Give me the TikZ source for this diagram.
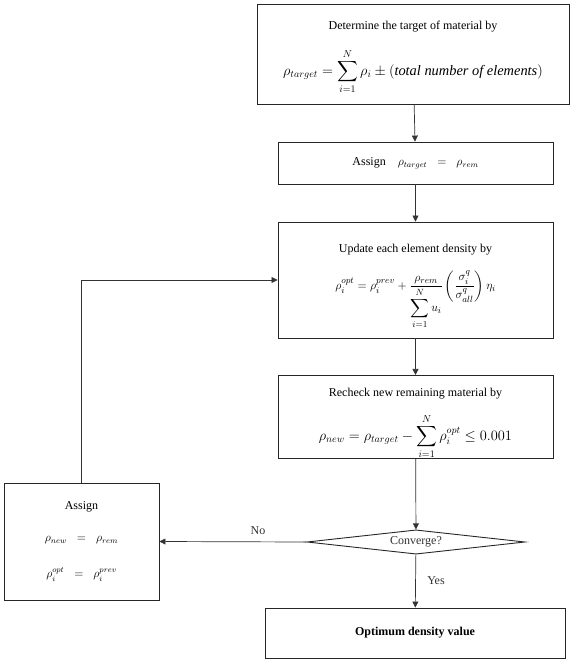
\documentclass[tikz,border=0pt]{standalone}
\usepackage{amsmath, amssymb}
\usepackage{fontspec}
\setmainfont{Liberation Serif}
\usetikzlibrary{shapes.geometric, arrows.meta}

\tikzset{
  stepbox/.style={draw=black!85, line width=0.9pt, inner sep=0pt, align=center,
    font=\fontsize{12}{14}\selectfont},
  flowline/.style={draw=black!80, line width=0.7pt, -{Triangle[width=6pt,length=6pt]}},
  decision/.style={draw=black!85, line width=0.9pt, diamond, aspect=3.76, inner sep=0pt,
    minimum width=218pt, font=\fontsize{12}{14}\selectfont, text=black!80}
}

\begin{document}
\begin{tikzpicture}[x=1pt, y=-1pt]
	\useasboundingbox (0,0) rectangle (573,660);

	\node[stepbox, minimum width=312pt, minimum height=100pt] (target) at (413,54)
		{\rule{0pt}{15pt}Determine the target of material by\\[16pt]
		 \Large$\rho_{target} = \displaystyle\sum_{i=1}^{N}\rho_i \pm \left(\textit{total number of elements}\right)$};
	\node[stepbox, minimum width=275pt, minimum height=42pt] (assign) at (415.5,163)
		{Assign\quad \large$\rho_{target} \;\;=\;\; \rho_{rem}$};
	\node[stepbox, minimum width=275pt, minimum height=116pt] (update) at (415.5,280)
		{\rule{0pt}{21pt}Update each element density by\\[15pt]
		 \fontsize{13}{15}\selectfont$\rho_i^{opt} = \rho_i^{prev} + \dfrac{\rho_{rem}}{\displaystyle\sum_{i=1}^{N} u_i}\left(\dfrac{\sigma_i^q}{\sigma_{all}^q}\right)\eta_i$};
	\node[stepbox, minimum width=275pt, minimum height=82pt] (recheck) at (415.5,417)
		{\rule{0pt}{21pt}Recheck new remaining material by\\[14pt]
		 \Large$\rho_{new} = \rho_{target} - \displaystyle\sum_{i=1}^{N}\rho_i^{opt} \le 0.001$};
	\node[decision] (conv) at (416,542) {Converge?};
	\node[stepbox, minimum width=300pt, minimum height=50pt] (optimum) at (415,633)
		{\textbf{Optimum density value}};
	\node[stepbox, minimum width=155pt, minimum height=117pt] (reassign) at (81.5,541.5)
		{Assign\\[18pt]
		 \large$\rho_{new} \;\;=\;\; \rho_{rem}$\\[22pt]
		 \large$\rho_i^{opt} \;\;=\;\; \rho_i^{prev}$};

	% main column
	\draw[flowline] (target) -- (assign);
	\draw[flowline] (assign) -- (update);
	\draw[flowline] (update) -- (recheck);
	\draw[flowline] (recheck) -- (conv);
	\draw[flowline] (conv) -- (optimum)
		node[midway, right=8pt, font=\fontsize{12}{14}\selectfont, text=black!80] {Yes};

	% loop back
	\draw[flowline] (conv.west) -- (reassign.east)
		node[pos=0.33, above=4pt, font=\fontsize{12}{14}\selectfont, text=black!80] {No};
	\draw[flowline] (reassign.north) |- (update.west);
\end{tikzpicture}
\end{document}
